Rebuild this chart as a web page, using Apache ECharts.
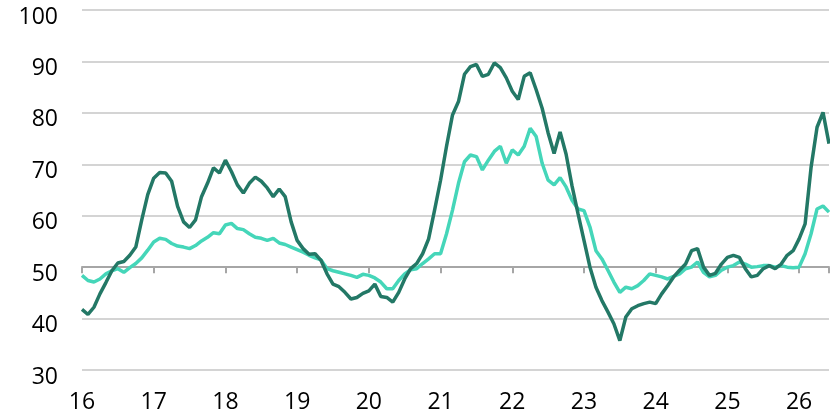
<!DOCTYPE html>
<html>
<head>
<meta charset="utf-8">
<script src="https://cdn.jsdelivr.net/npm/echarts@6/dist/echarts.min.js"></script>
<style>
  html, body { margin: 0; padding: 0; background: #fff; }
  #chart { width: 830px; height: 416px; }
</style>
</head>
<body>
<div id="chart"></div>
<script>
// monthly, Jan 2016 .. Jun 2026 (126 points), x = month index
var yearLabels = ['16', '17', '18', '19', '20', '21', '22', '23', '24', '25', '26'];

var darkValues = [
  41.8, 40.8, 42.2, 44.8, 47.0, 49.3, 50.8, 51.1, 52.3, 53.9, 59.2, 64.1,
  67.3, 68.4, 68.3, 66.7, 61.8, 58.8, 57.7, 59.2, 63.7, 66.3, 69.3, 68.3,
  70.8, 68.6, 66.0, 64.4, 66.3, 67.5, 66.7, 65.4, 63.7, 65.2, 63.7, 58.8,
  55.2, 53.6, 52.5, 52.6, 51.3, 48.7, 46.7, 46.2, 45.1, 43.8, 44.1, 44.9,
  45.4, 46.7, 44.3, 44.1, 43.2, 45.1, 47.7, 49.7, 50.7, 52.6, 55.5, 61.1,
  66.9, 73.5, 79.6, 82.2, 87.5, 89.0, 89.4, 87.1, 87.5, 89.7, 88.8, 86.8,
  84.2, 82.6, 87.1, 87.8, 84.5, 80.9, 76.1, 72.1, 76.3, 72.0, 65.8, 60.4,
  55.2, 50.0, 46.1, 43.5, 41.3, 39.0, 35.7, 40.3, 41.9, 42.5, 42.9, 43.2,
  42.9, 44.8, 46.4, 48.1, 49.4, 50.6, 53.2, 53.6, 50.0, 48.4, 48.8, 50.6,
  51.9, 52.3, 51.9, 49.7, 48.1, 48.4, 49.7, 50.3, 49.7, 50.6, 52.3, 53.2,
  55.5, 58.4, 69.4, 77.2, 80.1, 74.0
];

var lightValues = [
  48.4, 47.4, 47.1, 47.7, 48.7, 49.3, 49.7, 49.0, 49.9, 50.7, 51.8, 53.3,
  54.9, 55.6, 55.4, 54.6, 54.1, 53.9, 53.6, 54.2, 55.1, 55.8, 56.7, 56.5,
  58.2, 58.5, 57.5, 57.3, 56.5, 55.8, 55.6, 55.2, 55.6, 54.7, 54.4, 53.9,
  53.4, 52.9, 52.3, 51.8, 51.4, 49.7, 49.3, 49.0, 48.7, 48.4, 48.0, 48.6,
  48.4, 47.9, 47.1, 45.8, 45.8, 47.4, 48.7, 49.5, 49.7, 50.7, 51.6, 52.6,
  52.6, 56.5, 61.1, 66.3, 70.5, 71.8, 71.5, 68.9, 70.8, 72.5, 73.5, 70.2,
  72.8, 71.8, 73.5, 77.0, 75.4, 70.2, 66.9, 66.0, 67.4, 65.6, 63.0, 61.3,
  61.0, 57.8, 53.2, 51.6, 49.4, 47.1, 45.1, 46.1, 45.8, 46.4, 47.4, 48.7,
  48.4, 48.1, 47.7, 48.2, 48.7, 49.7, 50.0, 51.0, 49.0, 48.1, 48.4, 49.4,
  50.0, 50.3, 51.0, 50.6, 50.0, 50.1, 50.3, 50.3, 50.0, 50.3, 50.0, 49.9,
  50.0, 52.6, 56.5, 61.3, 61.9, 60.7
];

function toPairs(values) {
  return values.map(function (v, i) { return [i, v]; });
}

var lastIndex = darkValues.length - 1;
var fontFamily = '"Open Sans", "Noto Sans", sans-serif';

var myChart = echarts.init(document.getElementById('chart'), null, { renderer: 'canvas' });
var option = {
  animation: false,
  grid: { left: 82, right: 1, top: 10, bottom: 46 },
  xAxis: [
    {
      type: 'value',
      min: 0,
      max: lastIndex,
      interval: 12,
      position: 'bottom',
      axisLine: { show: false },
      axisTick: { show: false },
      splitLine: { show: false },
      axisLabel: {
        margin: 21,
        fontSize: 23,
        fontFamily: fontFamily,
        color: '#000',
        showMaxLabel: false,
        formatter: function (v) { return yearLabels[v / 12] || ''; }
      }
    },
    {
      // the line at 50 with year ticks
      type: 'value',
      min: 0,
      max: lastIndex,
      interval: 12,
      position: 'bottom',
      offset: -102.86,
      axisLine: { show: true, lineStyle: { color: '#a6a6a6', width: 2 } },
      axisTick: { show: true, length: 6, lineStyle: { color: '#a6a6a6', width: 2 } },
      splitLine: { show: false },
      axisLabel: { show: false }
    }
  ],
  yAxis: {
    type: 'value',
    min: 30,
    max: 100,
    interval: 10,
    axisLine: { show: false },
    axisTick: { show: false },
    splitLine: { lineStyle: { color: '#d4d4d4', width: 2 } },
    axisLabel: {
      margin: 24,
      fontSize: 23,
      fontFamily: fontFamily,
      color: '#000',
      verticalAlign: 'top',
      lineHeight: 14
    }
  },
  series: [
    {
      type: 'line',
      data: toPairs(lightValues),
      symbol: 'none',
      lineStyle: { color: '#45d6b9', width: 3.5 },
      z: 3
    },
    {
      type: 'line',
      data: toPairs(darkValues),
      symbol: 'none',
      lineStyle: { color: '#237866', width: 3.5 },
      z: 4
    }
  ]
};
myChart.setOption(option);
</script>
</body>
</html>
